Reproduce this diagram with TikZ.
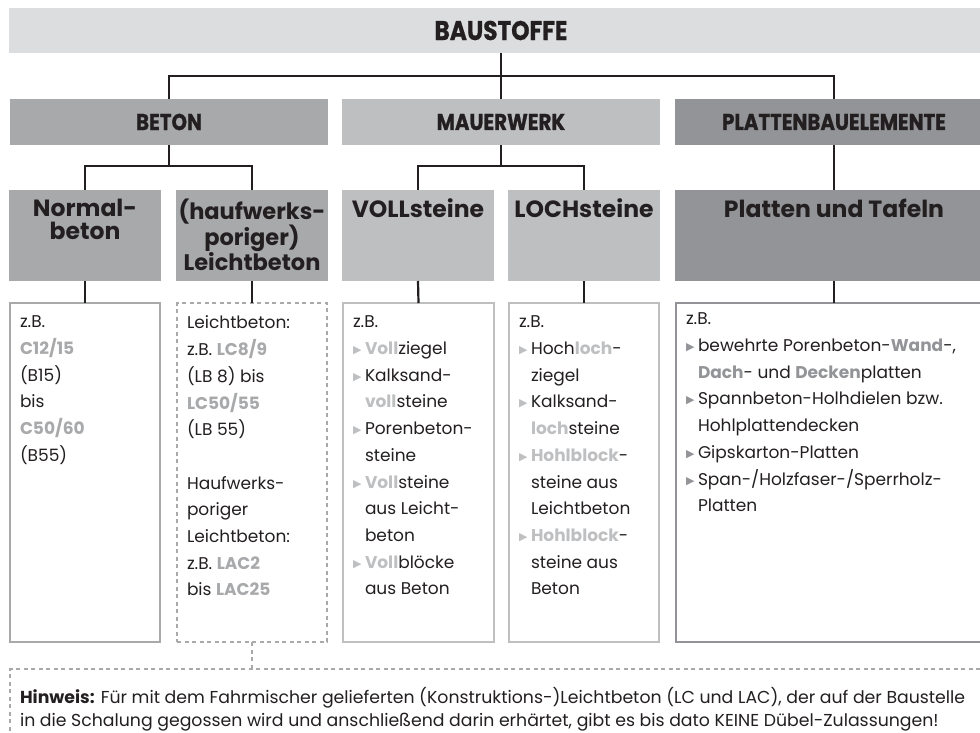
\documentclass[tikz,border=0pt]{standalone}
\usepackage{fontspec}
\setmainfont{Poppins}
\newfontfamily\kopffont{Poppins}[FakeStretch=0.86, BoldFeatures={FakeBold=0.8}]
\newfontfamily\symfont{DejaVu Sans}
\usetikzlibrary{positioning}

\definecolor{hellgrau}{HTML}{DCDDDE}
\definecolor{betongrau}{HTML}{A8A9AB}
\definecolor{mauergrau}{HTML}{BEBFC1}
\definecolor{plattengrau}{HTML}{939497}
\definecolor{linie}{HTML}{231F20}

% hervorgehobener Wortteil
\newcommand\hv[2]{{\bfseries\color{#1}#2}}
% Aufzaehlungspunkt mit haengendem Einzug
\newcommand\pkt[1]{\par\noindent\hangindent=12pt\hangafter=1%
  \makebox[12pt][l]{\raisebox{1pt}{\symfont\fontsize{11}{11}\selectfont\color{#1}▶}}}
% Textfeld mit fester Hoehe, oben ausgerichtet
\newcommand\feld[3]{\parbox[t][#2][t]{#1}{#3}}

\begin{document}
\begin{tikzpicture}[x=1pt, y=-1pt,
  box/.style={anchor=north west, inner sep=0pt, outer sep=0pt, text=linie},
  ebene1/.style={box, fill=hellgrau, minimum width=984pt, minimum height=45pt,
    font=\kopffont\bfseries\fontsize{27}{27}\selectfont},
  ebene2/.style={box, minimum width=318pt, minimum height=46pt,
    font=\kopffont\bfseries\fontsize{23}{23}\selectfont},
  ebene3/.style={box, font=\bfseries\fontsize{23.5}{23}\selectfont},
  inhalt/.style={box, draw, line width=2pt, inner sep=10pt,
    font=\fontsize{17}{26.7}\selectfont},
  verbindung/.style={draw=linie, line width=2.2pt},
  gestrichelt/.style={draw=betongrau, line width=1.6pt, dash pattern=on 4pt off 3.5pt}
]
\useasboundingbox (0,0) rectangle (980,733);

% oberste Ebene
\node[ebene1] (top) at (9,8) {BAUSTOFFE};

% zweite Ebene
\node[ebene2, fill=betongrau] (beton) at (10,99) {BETON};
\node[ebene2, fill=mauergrau] (mauer) at (342,99) {MAUERWERK};
\node[ebene2, fill=plattengrau] (platten) at (675,99) {PLATTENBAUELEMENTE};

% dritte Ebene
\node[ebene3, fill=betongrau] (nb) at (9,190)
  {\feld{152pt}{91pt}{\centering\vspace*{9pt}Normal-\\beton}};
\node[ebene3, fill=betongrau] (lb) at (176,190)
  {\feld{152pt}{91pt}{\centering\fontsize{22.5}{22}\selectfont
   \vspace*{9pt}\mbox{(haufwerks-}\\poriger)\\Leichtbeton}};
\node[ebene3, fill=mauergrau] (vs) at (342,190)
  {\feld{152pt}{91pt}{\centering\vspace*{9pt}VOLLsteine}};
\node[ebene3, fill=mauergrau] (ls) at (508,190)
  {\feld{152pt}{91pt}{\centering\vspace*{9pt}LOCHsteine}};
\node[ebene3, fill=plattengrau] (pt) at (675,190)
  {\feld{318pt}{91pt}{\centering\vspace*{9pt}Platten und Tafeln}};

% Inhaltsfelder
\node[inhalt, draw=betongrau] (nbk) at (10,303) {\feld{130pt}{319pt}{\vspace*{3pt}%
  z.B.\\
  \hv{betongrau}{C12/15}\\
  (B15)\\
  bis\\
  \hv{betongrau}{C50/60}\\
  (B55)}};
\node[inhalt, gestrichelt] (lbk) at (177,303) {\feld{130pt}{319pt}{\vspace*{3pt}%
  Leichtbeton:\\
  z.B. \hv{betongrau}{LC8/9}\\
  (LB 8) bis\\
  \hv{betongrau}{LC50/55}\\
  (LB 55)\\[26.7pt]
  Haufwerks-\\
  poriger\\
  Leichtbeton:\\
  z.B. \hv{betongrau}{LAC2}\\
  bis \hv{betongrau}{LAC25}}};
\node[inhalt, draw=mauergrau] (vsk) at (343,303) {\feld{131pt}{319pt}{\vspace*{3pt}%
  z.B.
  \pkt{mauergrau}\hv{mauergrau}{Voll}ziegel
  \pkt{mauergrau}Kalksand-\\\hv{mauergrau}{voll}steine
  \pkt{mauergrau}Porenbeton-\\steine
  \pkt{mauergrau}\hv{mauergrau}{Voll}steine\\aus Leicht-\\beton
  \pkt{mauergrau}\hv{mauergrau}{Voll}blöcke\\aus Beton}};
\node[inhalt, draw=mauergrau] (lsk) at (509,303) {\feld{130pt}{319pt}{\vspace*{3pt}%
  z.B.
  \pkt{mauergrau}Hoch\hv{mauergrau}{loch}-\\ziegel
  \pkt{mauergrau}Kalksand-\\\hv{mauergrau}{loch}steine
  \pkt{mauergrau}\hv{mauergrau}{Hohlblock}-\\steine aus\\Leichtbeton
  \pkt{mauergrau}\hv{mauergrau}{Hohlblock}-\\steine aus\\Beton}};
\node[inhalt, draw=plattengrau] (ptk) at (676,303) {\feld{304pt}{319pt}{%
  z.B.
  \pkt{plattengrau}bewehrte Porenbeton-\hv{plattengrau}{Wand}-,\\
    \hv{plattengrau}{Dach}- und \hv{plattengrau}{Decken}platten
  \pkt{plattengrau}Spannbeton-Holhdielen bzw.\\Hohlplattendecken
  \pkt{plattengrau}Gipskarton-Platten
  \pkt{plattengrau}Span-/Holzfaser-/Sperrholz-\\Platten}};

% Hinweis
\node[box, gestrichelt, draw, inner sep=10pt, font=\fontsize{17.3}{23.5}\selectfont]
  (hinweis) at (10,669) {\feld{970pt}{80pt}{\vspace*{8pt}%
  \textbf{Hinweis:} Für mit dem Fahrmischer gelieferten (Konstruktions-)Leichtbeton (LC und LAC), der auf der Baustelle\\
  in die Schalung gegossen wird und anschließend darin erhärtet, gibt es bis dato KEINE Dübel-Zulassungen!}};

% Verbindungen
\path (top.south) ++(0,23) coordinate (k0);
\draw[verbindung] (top.south) -- (mauer.north);
\draw[verbindung] (beton.north) |- (k0) -| (platten.north);

\path (beton.south) ++(0,21) coordinate (k1);
\draw[verbindung] (beton.south) -- (k1);
\draw[verbindung] (nb.north) |- (k1) -| (lb.north);

\path (mauer.south) ++(0,21) coordinate (k2);
\draw[verbindung] (mauer.south) -- (k2);
\draw[verbindung] (vs.north) |- (k2) -| (ls.north);

\draw[verbindung] (platten.south) -- (pt.north);

\draw[verbindung] (nb.south) -- (nbk.north);
\draw[verbindung] (lb.south) -- (lbk.north);
\draw[verbindung] (vs.south) -- (vsk.north);
\draw[verbindung] (ls.south) -- (lsk.north);
\draw[verbindung] (pt.south) -- (pt.south |- ptk.north);

\draw[gestrichelt] (lbk.south) -- (lbk.south |- hinweis.north);
\end{tikzpicture}
\end{document}
